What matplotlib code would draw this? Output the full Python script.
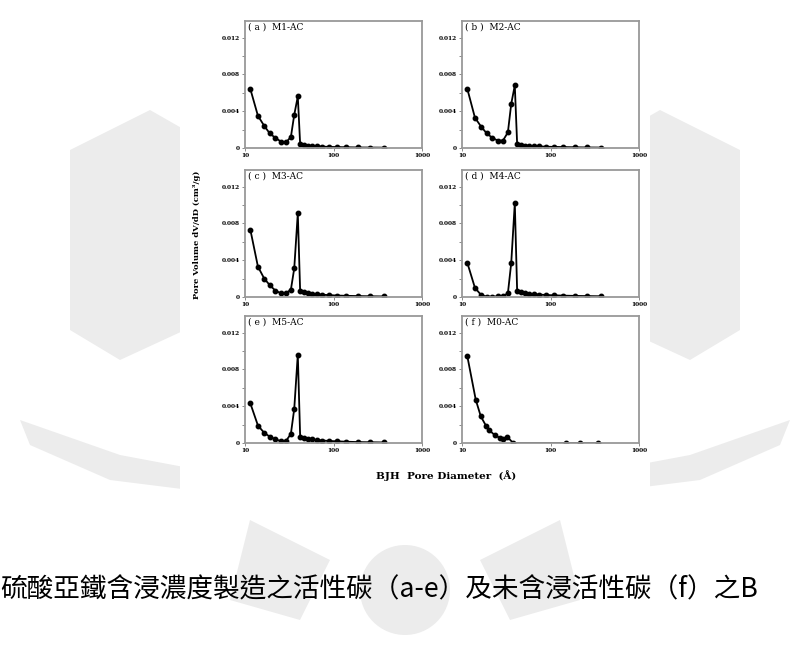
import matplotlib.pyplot as plt
from matplotlib.patches import Polygon, Circle, Rectangle

# BJH pore diameters (A) for panels a-e
diam = [11.5, 14, 16.5, 19, 22, 25.5, 29, 33, 36, 39.5, 42, 46, 51, 57, 65, 75,
        90, 110, 140, 190, 260, 370]

m1 = [0.0064, 0.0035, 0.0024, 0.0016, 0.0011, 0.0007, 0.0006, 0.0012, 0.0036,
      0.0056, 0.0004, 0.0003, 0.00025, 0.0002, 0.00018, 0.00015, 0.00012,
      0.0001, 0.00008, 0.00006, 0.00005, 0.00004]
m2 = [0.0064, 0.0033, 0.0023, 0.0016, 0.0011, 0.0008, 0.0008, 0.0017, 0.0048,
      0.0068, 0.0004, 0.00032, 0.00027, 0.00022, 0.0002, 0.00017, 0.00014,
      0.00012, 0.0001, 0.00008, 0.00006, 0.00005]
m3 = [0.0073, 0.0033, 0.0020, 0.0013, 0.0007, 0.0004, 0.0004, 0.0008, 0.0031,
      0.0091, 0.0006, 0.0005, 0.00042, 0.00035, 0.0003, 0.00025, 0.0002,
      0.00016, 0.00013, 0.0001, 0.00008, 0.00006]
m4 = [0.0037, 0.0010, 0.0002, 0.00005, 0.00003, 0.00008, 0.0001, 0.0004,
      0.0037, 0.0102, 0.0006, 0.0005, 0.00042, 0.00036, 0.0003, 0.00026,
      0.00022, 0.00018, 0.00015, 0.00012, 0.0001, 0.00008]
m5 = [0.0043, 0.0019, 0.0011, 0.0007, 0.0004, 0.0002, 0.0002, 0.0010, 0.0037,
      0.0096, 0.0007, 0.00055, 0.00045, 0.0004, 0.00032, 0.00027, 0.00022,
      0.00018, 0.00014, 0.0001, 0.00008, 0.00006]

# panel f has its own diameters
diam_f = [11.5, 14.3, 16.3, 18.6, 20.2, 23.6, 26.9, 29.3, 32.5, 37.9, 151, 215, 347]
m0 = [0.0094, 0.0047, 0.0029, 0.0019, 0.0014, 0.00084, 0.00055, 0.00045,
      0.00065, 0.0, 0.0, 0.0, 0.0]

labels = ["( a )  M1-AC", "( b )  M2-AC", "( c )  M3-AC", "( d )  M4-AC",
          "( e )  M5-AC", "( f )  M0-AC"]
xs = [diam, diam, diam, diam, diam, diam_f]
ys = [m1, m2, m3, m4, m5, m0]

caption = "硫酸亞鐵含浸濃度製造之活性碳（a-e）及未含浸活性碳（f）之B"

W, H = 808, 657
fig = plt.figure(figsize=(W / 100, H / 100), dpi=100)

# faint watermark behind everything
bg = fig.add_axes([0, 0, 1, 1], zorder=-5)
bg.set_xlim(0, W)
bg.set_ylim(H, 0)
bg.axis("off")
wm = "#ececec"
bg.add_patch(Polygon([(70, 150), (150, 110), (185, 130), (185, 330), (120, 360), (70, 330)],
                     closed=True, color=wm, lw=0))
bg.add_patch(Polygon([(20, 420), (120, 455), (200, 470), (190, 490), (110, 480), (30, 445)],
                     closed=True, color=wm, lw=0))
bg.add_patch(Polygon([(740, 150), (660, 110), (625, 130), (625, 330), (690, 360), (740, 330)],
                     closed=True, color=wm, lw=0))
bg.add_patch(Polygon([(790, 420), (690, 455), (610, 470), (620, 490), (700, 480), (780, 445)],
                     closed=True, color=wm, lw=0))
bg.add_patch(Polygon([(250, 520), (330, 560), (300, 620), (230, 600)], closed=True, color=wm, lw=0))
bg.add_patch(Polygon([(560, 520), (480, 560), (510, 620), (580, 600)], closed=True, color=wm, lw=0))
bg.add_patch(Circle((405, 590), 45, color=wm, lw=0))
bg.add_patch(Rectangle((180, 0), 470, 510, color="white", lw=0))

lefts = [245 / W, 462 / W]
bottoms = [(H - 148) / H, (H - 297) / H, (H - 443) / H]
w = 177 / W
h = 127 / H

for i in range(6):
    r, c = divmod(i, 2)
    ax = fig.add_axes([lefts[c], bottoms[r], w, h])
    ax.plot(xs[i], ys[i], color="black", lw=1.3, marker="o", ms=3.2)
    ax.set_xscale("log")
    ax.set_xlim(10, 1000)
    ax.set_ylim(0, 0.0138)
    ax.set_xticks([10, 100, 1000])
    ax.set_xticklabels(["10", "100", "1000"])
    ax.set_xticks([], minor=True)
    ax.set_yticks([0, 0.004, 0.008, 0.012])
    ax.set_yticklabels(["0", "0.004", "0.008", "0.012"])
    ax.set_yticks([0.002, 0.006, 0.010], minor=True)
    ax.tick_params(which="both", direction="out", length=2, width=0.6,
                   labelsize=4.2, pad=1.5, color="#777777")
    for lab in ax.get_xticklabels() + ax.get_yticklabels():
        lab.set_fontfamily("DejaVu Serif")
        lab.set_fontweight("bold")
    for s in ax.spines.values():
        s.set_color("#999999")
        s.set_linewidth(1.3)
    ax.text(0.015, 0.99, labels[i], transform=ax.transAxes, ha="left", va="top",
            fontsize=6.5, family="DejaVu Serif")

fig.text(197 / W, (H - 235) / H, "Pore Volume dV/dD (cm³/g)", rotation=90,
         ha="center", va="center", fontsize=6, fontweight="bold", family="DejaVu Serif")
fig.text(446 / W, (H - 476) / H, "BJH  Pore Diameter  (Å)", ha="center", va="center",
         fontsize=7.5, fontweight="bold", family="DejaVu Serif")

fig.text(0.0, (H - 590) / H, caption, ha="left", va="center", fontsize=19.2,
         family=["Noto Sans CJK TC", "DejaVu Sans"])

fig.savefig("out.png", dpi=100)
